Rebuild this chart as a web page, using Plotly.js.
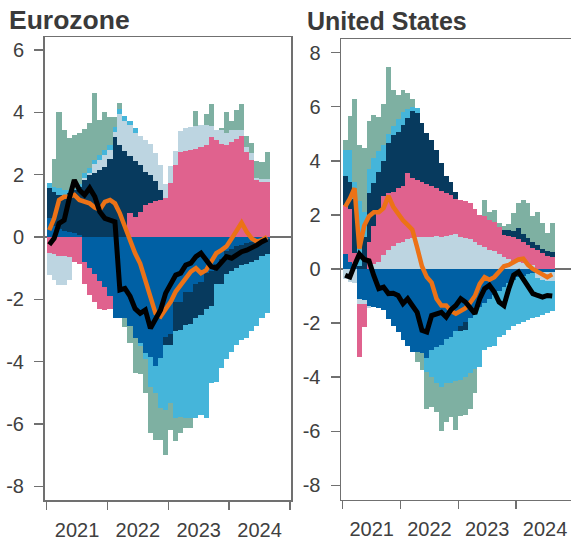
<!DOCTYPE html>
<html>
<head>
<meta charset="utf-8">
<script src="https://cdn.plot.ly/plotly-3.0.1.min.js"></script>
<style>
html,body{margin:0;padding:0;overflow:hidden;background:#fff;}
#chart{width:580px;height:540px;}
</style>
</head>
<body>
<div id="chart"></div>
<script>
// ---- categories ----
const months = ['2021-01','2021-02','2021-03','2021-04','2021-05','2021-06','2021-07','2021-08','2021-09','2021-10','2021-11','2021-12',
'2022-01','2022-02','2022-03','2022-04','2022-05','2022-06','2022-07','2022-08','2022-09','2022-10','2022-11','2022-12',
'2023-01','2023-02','2023-03','2023-04','2023-05','2023-06','2023-07','2023-08','2023-09','2023-10','2023-11','2023-12',
'2024-01','2024-02','2024-03','2024-04','2024-05','2024-06','2024-07','2024-08'];

// ---- Eurozone components ----
const ezMidBlue = [0.6,0.35,0.25,0.2,0.15,0.12,0.05,-0.8,-1.0,-1.2,-1.4,-1.6,-1.9,-2.6,-2.6,-2.6,-2.87,-3.25,-3.4,-3.73,-3.84,-4.13,-3.89,-3.2,-3.1,-2.07,-2.07,-1.75,-1.75,-1.5,-1.45,-1.16,-1.1,-0.85,-0.7,-0.45,-0.4,-0.3,-0.25,-0.2,-0.15,-0.1,-0.05,-0.05];
const ezPink = [-0.5,-0.55,-0.6,-0.6,-0.65,-0.8,-0.85,-0.7,-0.85,-0.9,-0.9,-0.75,-0.4,0,0,0,0.76,0.65,0.8,1.03,1.08,1.15,1.19,1.24,1.72,2.3,2.73,2.75,2.8,2.84,2.9,2.95,3.2,3.1,3.0,2.95,3.05,3.15,3.24,2.73,2.47,1.83,1.77,1.77];
const ezNavy = [0.97,1.1,1.1,1.1,1.25,1.38,1.55,1.83,1.99,2.04,2.15,2.25,2.52,3.2,2.95,2.75,1.84,1.8,1.5,1.07,0.92,0.65,0.31,-0.26,-0.36,-0.93,-0.91,-1.07,-1.05,-1.1,-1.05,-1.14,-1.1,-0.65,-0.8,-0.75,-0.7,-0.7,-0.65,-0.65,-0.65,-0.65,-0.55,-0.5];
const ezLightGrey = [-0.72,-0.83,-0.94,-0.94,-0.73,0,0,0.07,0.06,0.29,0.32,0.38,0.27,0.18,1.01,0.98,0.98,0.9,0.94,1.0,0.97,0.9,0.81,0.46,0.56,0.46,0.67,0.75,0.74,0.71,0.71,0.65,0.35,0.35,0.45,0.4,0.4,0.3,0.21,0.17,0.23,0.07,0.08,0.08];
const ezSky = [0.17,0.15,0.21,0.2,0.1,0.05,0.1,0.14,0.15,0.14,0.16,0.16,0.16,0.15,0.16,0.15,0.15,0.15,-0.1,-0.17,-0.96,-0.87,-1.61,-2.09,-1.87,-2.8,-2.78,-2.98,-3.01,-3.2,-3.2,-3.5,-2.5,-3.14,-2.7,-2.7,-2.6,-2.45,-2.4,-2.4,-2.2,-2.1,-2.0,-1.9];
const ezTeal = [0,0.89,2.44,1.95,1.68,1.74,1.65,1.44,1.46,2.16,1.12,1.21,0.91,0.33,0.18,-0.3,-0.53,-1.12,-0.9,-1.1,-1.5,-1.5,-1.0,-1.45,-0.87,-0.76,-0.54,-0.33,-0.32,0.49,0,0.36,0.73,0,0.05,0.67,0.27,0.64,0.83,0.34,0.32,0.54,0.56,0.88];
const ezOrange = [0.22,0.6,1.19,1.29,1.29,1.35,1.19,1.13,1.08,0.95,0.88,1.13,1.19,1.08,0.76,0.33,-0.15,-0.52,-0.85,-1.38,-2.0,-2.45,-2.55,-2.34,-2.07,-1.75,-1.54,-1.38,-1.11,-1.0,-1.16,-1.06,-0.79,-0.52,-0.42,-0.3,-0.05,0.22,0.46,0.17,-0.05,-0.15,-0.1,0.0];
const ezBlack = [-0.25,-0.04,0.44,0.54,1.23,1.83,1.51,1.35,1.57,1.3,0.81,0.6,0.54,0.49,-1.7,-1.65,-1.9,-2.3,-2.45,-2.34,-2.93,-2.66,-2.34,-1.8,-1.54,-1.22,-1.16,-0.9,-0.84,-0.63,-0.52,-0.74,-0.95,-1.0,-0.79,-0.63,-0.68,-0.58,-0.47,-0.42,-0.36,-0.26,-0.15,-0.07];

// ---- United States components ----
const usMidBlue = [0.57,0.25,0.2,-1.1,-1.15,-1.35,-1.4,-1.45,-1.5,-1.84,-2.09,-2.33,-2.64,-2.83,-3.07,-3.06,-3.1,-3.3,-3.0,-2.9,-2.8,-2.6,-2.5,-2.3,-2.1,-1.95,-1.8,-1.6,-1.4,-1.25,-1.1,-0.95,-0.8,-0.65,-0.5,-0.4,-0.3,-0.25,-0.2,-0.15,-0.12,-0.1,-0.1,-0.1];
const usLightGrey = [-0.36,-0.48,-0.5,-0.18,-0.15,-0.1,0.2,0.25,0.5,0.7,0.85,0.95,1.0,1.1,1.15,1.18,1.2,1.2,1.2,1.22,1.2,1.22,1.25,1.28,1.2,1.15,1.1,1.0,0.9,0.8,0.7,0.65,0.55,0.45,0.37,0.3,0.27,0.22,0.18,0.15,-0.2,-0.3,-0.35,-0.35];
const usPink = [1.8,1.95,0.4,-1.98,-0.85,1.0,1.4,1.85,2.18,2.1,2.01,2.05,2.05,2.44,2.21,2.12,2.03,1.95,1.85,1.78,1.7,1.58,1.49,1.32,1.35,1.35,1.33,1.2,1.1,1.14,1.11,1.1,1.02,0.81,0.85,0.9,0.83,0.78,0.72,0.63,0.7,0.6,0.48,0.46];
const usNavy = [1.05,1.0,2.0,0.1,1.2,1.8,1.57,1.5,1.3,1.85,2.1,2.08,2.28,2.04,2.47,2.47,2.17,1.87,1.73,1.4,1.01,0.62,0.49,0.26,-0.2,-0.3,0,0,0,0,0,0,0,0.19,0.23,0.2,0.4,0.3,0.25,0.22,0.2,0.15,0.17,0.16];
const usSky = [0.98,1.2,0.6,2.4,0.9,0.9,0.93,0.75,0.62,0.35,0.34,0.47,0.47,0.32,0.17,0.18,0,-0.5,-1.0,-1.3,-1.55,-1.6,-1.7,-1.85,-1.8,-1.75,-2.05,-2.1,-2.22,-1.75,-1.8,-1.9,-1.7,-1.8,-1.76,-1.7,-1.75,-1.7,-1.7,-1.68,-1.46,-1.3,-1.17,-1.1];
const usTeal = [0.38,1.24,3.08,2.1,2.37,1.76,1.6,1.25,1.5,2.46,1.33,0.89,0.83,0.6,0.3,-0.37,-0.64,-1.36,-1.1,-1.08,-1.65,-1.45,-1.27,-1.81,-1.35,-1.41,-1.31,-0.9,0,0.61,0.31,0.43,0.13,0.15,0.2,0.66,0.93,1.25,1.28,0.94,1.22,0.95,0.67,1.08];
const usOrange = [2.3,2.6,2.99,0.75,1.6,1.95,2.1,2.1,2.25,2.7,2.3,2.05,1.8,1.63,1.45,0.8,0.1,-0.3,-0.5,-1.1,-1.35,-1.35,-1.55,-1.65,-1.55,-1.45,-1.25,-1.0,-0.55,-0.3,-0.4,-0.3,-0.1,0.1,0.15,0.25,0.35,0.38,0.15,0.0,-0.1,-0.2,-0.3,-0.2];
const usBlack = [-0.23,-0.3,0.14,0.55,0.35,0.3,-0.25,-0.73,-0.67,-0.91,-0.9,-0.98,-1.28,-1.1,-1.35,-1.6,-2.27,-2.33,-1.72,-1.65,-1.6,-1.78,-1.5,-1.35,-1.1,-1.22,-1.47,-1.65,-1.1,-0.73,-0.6,-0.85,-1.22,-1.35,-0.73,-0.23,-0.11,-0.36,-0.6,-0.91,-0.98,-1.04,-0.98,-1.0];

// ---- tick labels ----
const ezYTicks = [-8,-6,-4,-2,0,2,4,6];
const ezYText = ['-8','-6','-4','-2','0','2','4','6'];
const usYTicks = [-8,-6,-4,-2,0,2,4,6,8];
const usYText = ['-8','-6','-4','-2','0','2','4','6','8'];
const panelTitles = ['Eurozone','United States'];

// ---- styles ----
const colMidBlue = '#0060a4', colPink = '#e0628e', colNavy = '#073a5e',
      colLightGrey = '#bdd5e1', colSky = '#45b5da', colTeal = '#7eb0a2',
      colOrange = '#ec7216', colBlack = '#000000';

// month centres / widths (ms) derived from the month list
const xc = [], xw = [];
months.forEach(m => {
  const [y, mo] = m.split('-').map(Number);
  const s = Date.UTC(y, mo - 1, 1), e = Date.UTC(y, mo, 1);
  xc.push((s + e) / 2); xw.push(e - s);
});

function bar(vals, color, xa, ya) {
  return {type: 'bar', x: xc, y: vals, width: xw, xaxis: xa, yaxis: ya,
    marker: {color: color, line: {width: 0}}, hoverinfo: 'skip'};
}
function line(vals, color, w, xa, ya) {
  return {type: 'scatter', mode: 'lines', x: xc, y: vals, xaxis: xa, yaxis: ya,
    line: {color: color, width: w}, hoverinfo: 'skip'};
}

const traces = [
  bar(ezMidBlue, colMidBlue, 'x', 'y'),
  bar(ezPink, colPink, 'x', 'y'),
  bar(ezNavy, colNavy, 'x', 'y'),
  bar(ezLightGrey, colLightGrey, 'x', 'y'),
  bar(ezSky, colSky, 'x', 'y'),
  bar(ezTeal, colTeal, 'x', 'y'),
  line(ezOrange, colOrange, 4.5, 'x', 'y'),
  line(ezBlack, colBlack, 5, 'x', 'y'),
  bar(usMidBlue, colMidBlue, 'x2', 'y2'),
  bar(usLightGrey, colLightGrey, 'x2', 'y2'),
  bar(usPink, colPink, 'x2', 'y2'),
  bar(usNavy, colNavy, 'x2', 'y2'),
  bar(usSky, colSky, 'x2', 'y2'),
  bar(usTeal, colTeal, 'x2', 'y2'),
  line(usOrange, colOrange, 4.5, 'x2', 'y2'),
  line(usBlack, colBlack, 5, 'x2', 'y2')
];

const W = 580, H = 540;
const tickFont = {family: 'Liberation Sans, Arial, sans-serif', size: 20, color: '#404040'};
const axLine = '#707070';

function xAxis(domain, range) {
  return {domain: domain, type: 'date', range: range, tick0: '2021-01-01', dtick: 'M12',
    ticklabelmode: 'period', tickformat: '%Y', ticks: 'outside', ticklen: 8, tickwidth: 1.5,
    tickcolor: axLine, showline: true, linecolor: axLine, linewidth: 1.5, mirror: true,
    showgrid: false, zeroline: false, tickfont: tickFont, ticklabelstandoff: 3, fixedrange: true};
}
function yAxis(domain, range, tv, tt, anchor) {
  return {domain: domain, range: range, tickmode: 'array', tickvals: tv, ticktext: tt,
    ticks: 'outside', ticklen: 9, tickwidth: 1.5, tickcolor: axLine, showline: true,
    linecolor: axLine, linewidth: 1.5, mirror: true, showgrid: false,
    zeroline: true, zerolinecolor: '#707070', zerolinewidth: 1.5,
    tickfont: tickFont, ticklabelstandoff: 6, anchor: anchor, fixedrange: true};
}

const layout = {
  width: W, height: H,
  margin: {l: 0, r: 0, t: 0, b: 0},
  paper_bgcolor: '#ffffff', plot_bgcolor: '#ffffff',
  barmode: 'relative', bargap: 0, showlegend: false,
  xaxis: xAxis([44.5 / W, 291 / W], ['2020-12-19', '2025-01-07']),
  yaxis: yAxis([1 - 500 / H, 1 - 37 / H], [-8.44, 6.42], ezYTicks, ezYText, 'x'),
  xaxis2: Object.assign(xAxis([341 / W, 574 / W], ['2020-12-21', '2025-01-01']), {anchor: 'y2'}),
  yaxis2: yAxis([1 - 499.5 / H, 1 - 39 / H], [-8.52, 8.5], usYTicks, usYText, 'x2'),
  annotations: [
    {text: '<b>' + panelTitles[0] + '</b>', xref: 'paper', yref: 'paper', x: 7 / W, y: 1 - 20 / H,
     xanchor: 'left', yanchor: 'middle', showarrow: false,
     font: {family: 'Liberation Sans, Arial, sans-serif', size: 26.5, color: '#3a3a3a'}},
    {text: '<b>' + panelTitles[1] + '</b>', xref: 'paper', yref: 'paper', x: 305 / W, y: 1 - 21 / H,
     xanchor: 'left', yanchor: 'middle', showarrow: false,
     font: {family: 'Liberation Sans, Arial, sans-serif', size: 25, color: '#3a3a3a'}}
  ]
};
layout.xaxis.anchor = 'y';

Plotly.newPlot('chart', traces, layout, {staticPlot: true, displayModeBar: false});
</script>
</body>
</html>
